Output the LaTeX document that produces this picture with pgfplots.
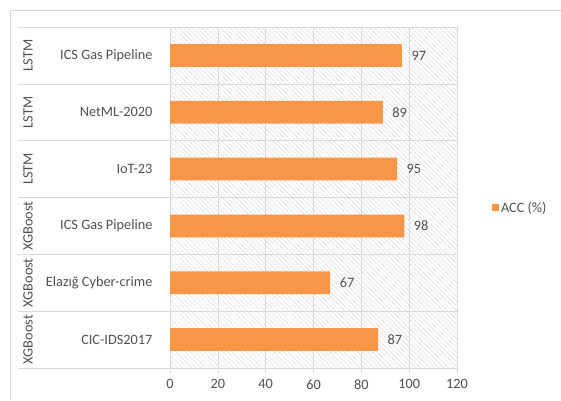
\documentclass[border=0pt]{standalone}
\usepackage{pgfplots}
\pgfplotsset{compat=1.18}
\usepackage{fontspec}
\setmainfont{Carlito}
\usetikzlibrary{patterns.meta}
\definecolor{barorange}{HTML}{F79646}
\definecolor{txtgray}{HTML}{505050}
\definecolor{gridgray}{HTML}{D9D9D9}
\begin{document}
\begin{tikzpicture}
\useasboundingbox (0pt,0pt) rectangle (561pt,-400pt);
\draw[gridgray,line width=0.8pt] (10pt,-400pt) -- (10pt,-10pt) -- (561pt,-10pt);
\begin{axis}[
  at={(170pt,-27pt)}, anchor=north west,
  scale only axis, width=287pt, height=341pt,
  xbar, bar width=22.7pt,
  xmin=0, xmax=120, ymin=-0.5, ymax=5.5,
  xtick={0,20,...,120},
  ytick={0,...,5},
  yticklabels={CIC-IDS2017, Elazığ Cyber-crime, ICS Gas Pipeline, IoT-23, NetML-2020, ICS Gas Pipeline},
  xmajorgrids, grid style={gridgray, line width=0.6pt},
  axis line style={gridgray, line width=0.6pt},
  x tick style={gridgray, line width=0.6pt}, major tick length=5pt,
  tick align=outside, xtick pos=bottom,
  y tick style={draw=none},
  extra y ticks={-0.5,0.5,...,5.5},
  extra y tick labels={},
  extra y tick style={ytick pos=left, major tick length=152pt, tick align=outside,
    y tick style={draw=gridgray, line width=0.6pt}, grid=major},
  axis background/.style={pattern={Lines[angle=-45,distance=3.3pt,line width=0.45pt]}, pattern color=gridgray},
  tick label style={font=\fontsize{14.3}{16}\selectfont, text=txtgray},
  /pgf/number format/assume math mode=true,
  yticklabel style={xshift=-9pt},
  xticklabel style={yshift=-3pt},
  nodes near coords,
  nodes near coords style={font=\fontsize{14.3}{16}\selectfont, text=txtgray, anchor=west, xshift=6pt},
  clip=false,
  legend style={at={(1.122,0.47)}, anchor=west, draw=none, fill=none,
    font=\fontsize{14.3}{16}\selectfont, text=txtgray, inner sep=0pt,
    legend cell align=left},
  legend image code/.code={\fill[barorange] (0pt,-3.4pt) rectangle (6.8pt,3.4pt);},
]
\addplot[fill=barorange, draw=none] coordinates {
  (87,0) (67,1) (98,2) (95,3) (89,4) (97,5)
};
\addlegendentry{ACC (\%)}
\node[rotate=90, text=txtgray, font=\fontsize{14.3}{16}\selectfont] at ([xshift=-142pt]axis cs:0,0) {XGBoost};
\node[rotate=90, text=txtgray, font=\fontsize{14.3}{16}\selectfont] at ([xshift=-142pt]axis cs:0,1) {XGBoost};
\node[rotate=90, text=txtgray, font=\fontsize{14.3}{16}\selectfont] at ([xshift=-142pt]axis cs:0,2) {XGBoost};
\node[rotate=90, text=txtgray, font=\fontsize{14.3}{16}\selectfont] at ([xshift=-142pt]axis cs:0,3) {LSTM};
\node[rotate=90, text=txtgray, font=\fontsize{14.3}{16}\selectfont] at ([xshift=-142pt]axis cs:0,4) {LSTM};
\node[rotate=90, text=txtgray, font=\fontsize{14.3}{16}\selectfont] at ([xshift=-142pt]axis cs:0,5) {LSTM};
\end{axis}
\end{tikzpicture}
\end{document}
